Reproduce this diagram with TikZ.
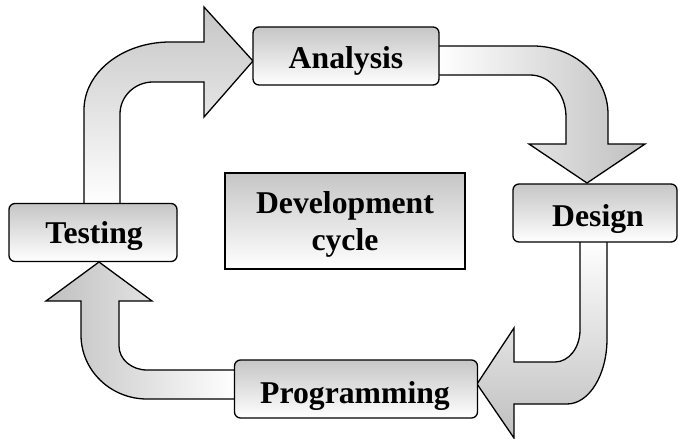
\documentclass[tikz,border=0pt]{standalone}
\usepackage{fontspec}
\setmainfont{Liberation Serif}
\begin{document}
\begin{tikzpicture}[x=1pt,y=-1pt,
  box/.style={draw=black, line width=1.3pt, rounded corners=6pt, top color=gray!45, bottom color=white, inner sep=0pt},
  cyclebox/.style={draw=black, line width=1.3pt, top color=gray!45, bottom color=white, inner sep=0pt},
  lbl/.style={font=\fontsize{31.7}{37}\selectfont\bfseries, inner sep=0pt, anchor=base},
  flow/.style={draw=black, line width=1.3pt, line join=miter}]
\useasboundingbox (0,0) rectangle (678,439);

% block arrows (drawn first so the boxes cover their tails)
\path[flow, top color=gray!45, bottom color=white]
  (84,205) -- (84,110) arc[start angle=180, end angle=270, x radius=86, y radius=68]
  -- (204,42) -- (204,7) -- (253,61) -- (204,117) -- (204,82) -- (153,82)
  arc[start angle=270, end angle=180, x radius=33, y radius=32]
  -- (120,205) -- cycle;
\path[flow, left color=white, right color=gray!50]
  (437,46) -- (533,46) arc[start angle=270, end angle=360, x radius=75, y radius=68]
  -- (608,144) -- (645,144) -- (587,183) -- (529,144) -- (566,144) -- (566,117)
  arc[start angle=0, end angle=-90, x radius=36, y radius=42]
  -- (437,75) -- cycle;
\path[flow, top color=white, bottom color=gray!50]
  (607,240) -- (607,339) arc[start angle=0, end angle=90, x radius=40, y radius=65]
  -- (514,404) -- (514,438) -- (477,384) -- (514,328) -- (514,362) -- (555,362)
  arc[start angle=90, end angle=0, x radius=25, y radius=32]
  -- (580,240) -- cycle;
\path[flow, left color=gray!50, right color=white]
  (236,399) -- (147,399) arc[start angle=90, end angle=180, x radius=66, y radius=64]
  -- (81,301) -- (46,301) -- (99,262) -- (152,301) -- (119,301) -- (119,346)
  arc[start angle=180, end angle=90, x radius=28, y radius=24]
  -- (236,370) -- cycle;

% boxes
\node[box, minimum width=186pt, minimum height=58pt] (analysis) at (346,56) {};
\node[box, minimum width=164pt, minimum height=58pt] (design) at (595,213) {};
\node[box, minimum width=168pt, minimum height=58pt] (testing) at (93,232.5) {};
\node[box, minimum width=243pt, minimum height=58pt] (programming) at (356,389) {};
\node[cyclebox, minimum width=240pt, minimum height=96pt] (cycle) at (345,221) {};

% labels
\node[lbl] (tanalysis) at (346,68) {Analysis};
\node[lbl] (tdesign) at (598,226) {Design};
\node[lbl] (ttesting) at (94,243) {Testing};
\node[lbl] (tprogramming) at (355,403) {Programming};
\node[lbl] (tdev) at (345,213) {Development};
\node[lbl] (tcycle) at (345,250) {cycle};
\end{tikzpicture}
\end{document}
